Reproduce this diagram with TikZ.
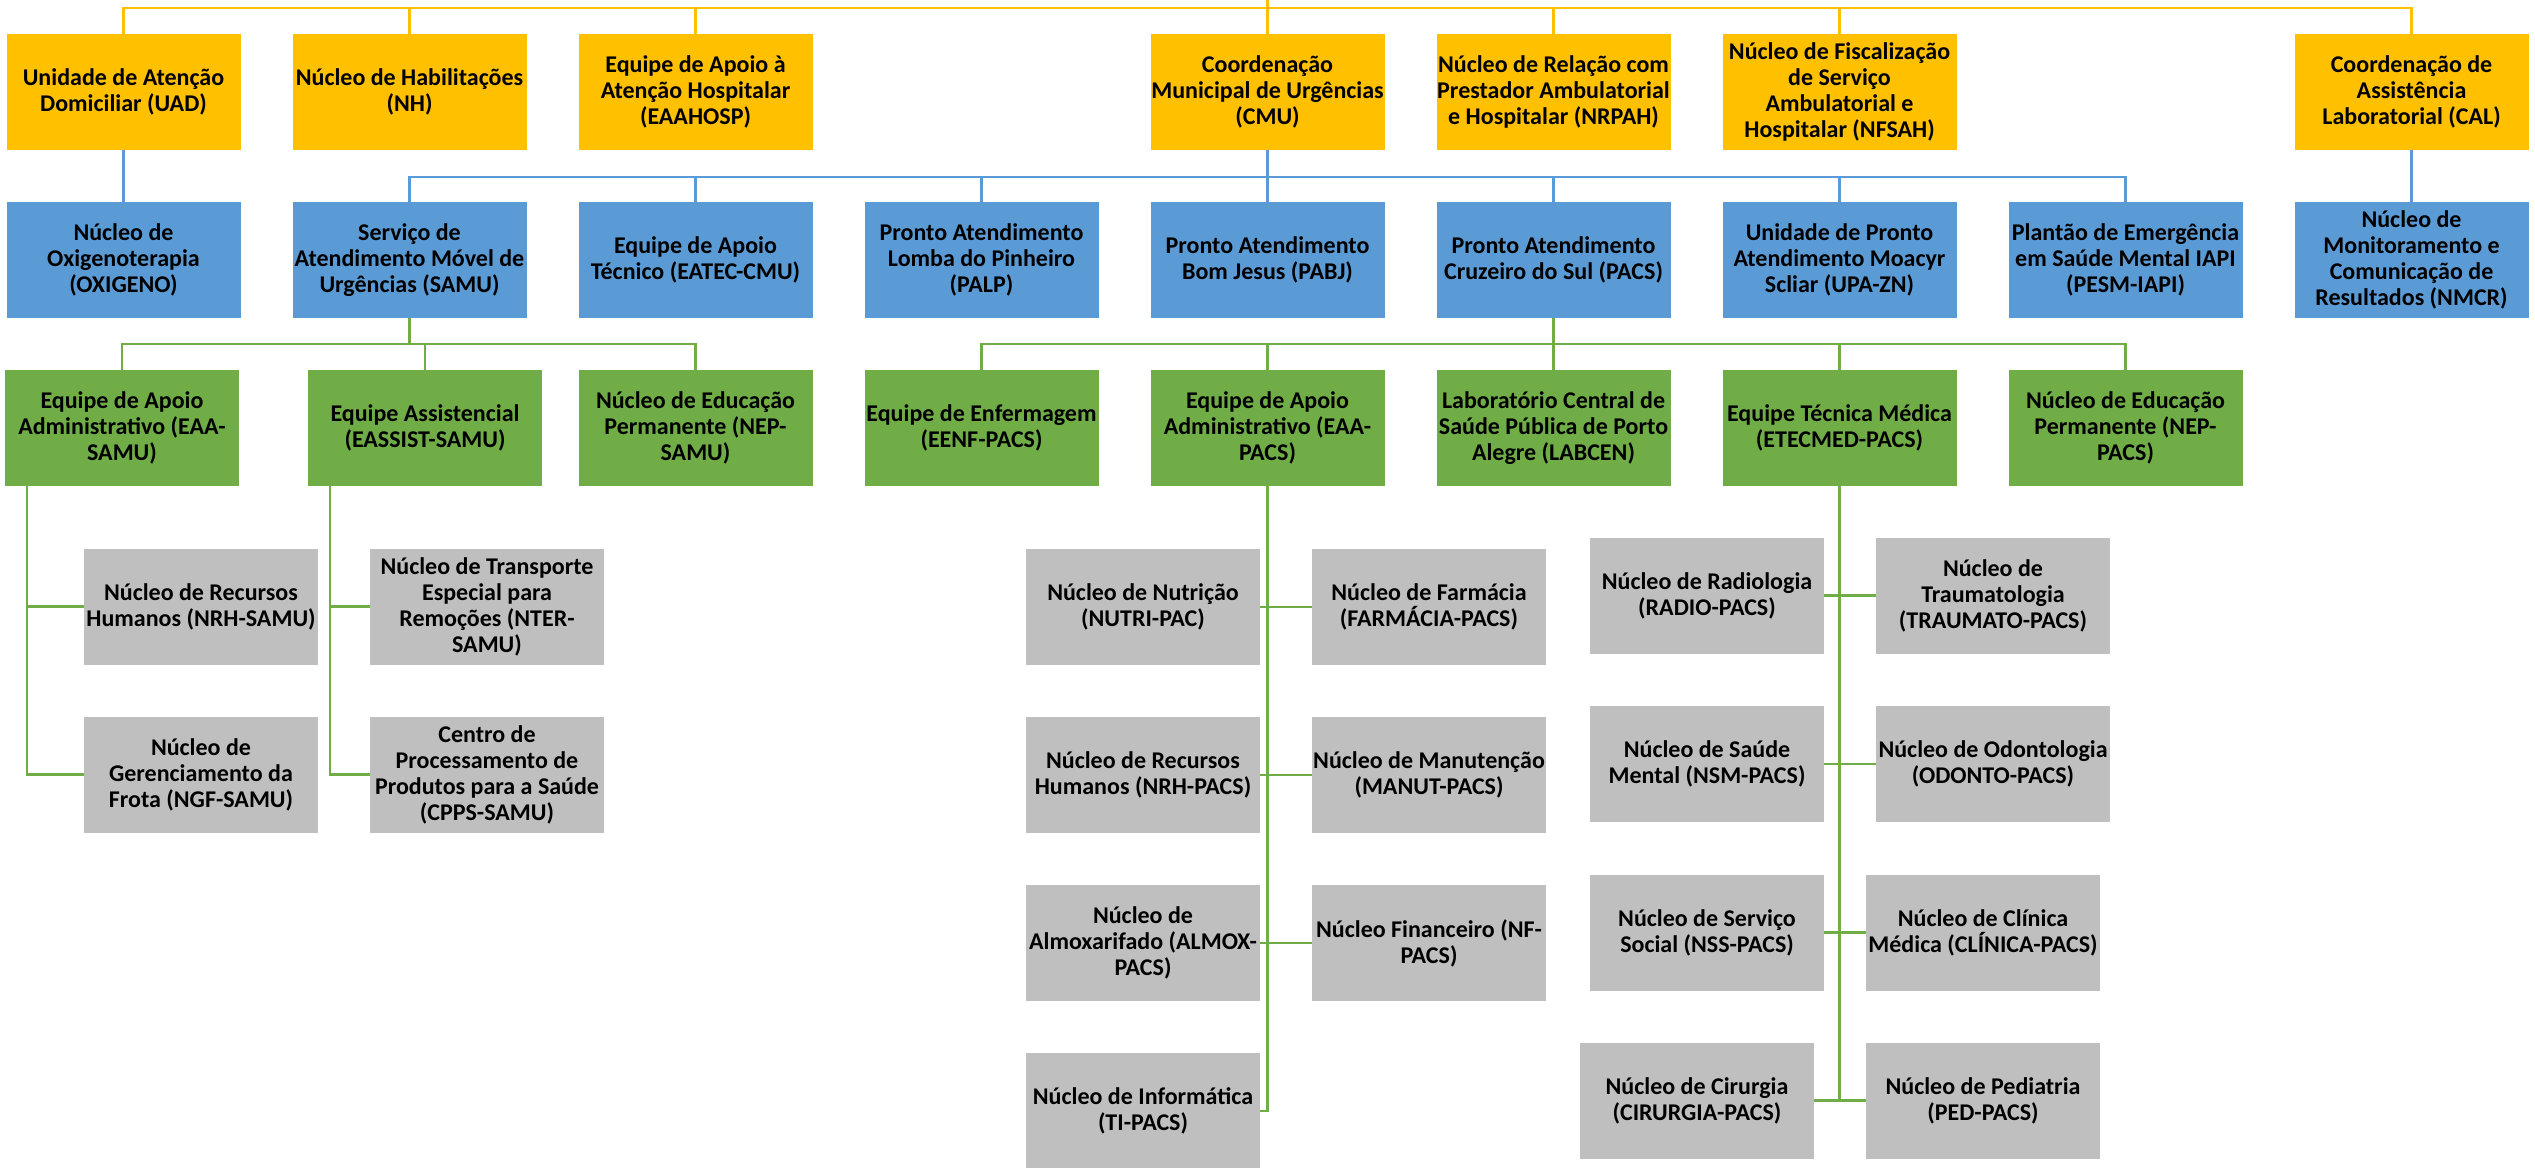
\documentclass[tikz,border=0pt]{standalone}
\usepackage{fontspec}
\setmainfont{Carlito}
\definecolor{cyel}{HTML}{FFC000}
\definecolor{cblu}{HTML}{5B9BD5}
\definecolor{cgrn}{HTML}{70AD47}
\definecolor{cgry}{HTML}{BFBFBF}
\begin{document}
\begin{tikzpicture}[x=0.5pt,y=-0.5pt,
  box/.style={rectangle, inner sep=0pt, minimum width=117pt, minimum height=58pt,
    align=center, text=black, font=\fontsize{12}{13}\selectfont\bfseries},
  ybox/.style={box, fill=cyel},
  bbox/.style={box, fill=cblu},
  gbox/.style={box, fill=cgrn},
  rbox/.style={box, fill=cgry},
  yl/.style={draw=cyel, line width=1.4pt},
  bl/.style={draw=cblu, line width=1.4pt},
  gl/.style={draw=cgrn, line width=1.4pt}]
\useasboundingbox (0,0) rectangle (2535,1167);
\coordinate (root) at (1267.5,0);
\coordinate (ybus) at (0,8);
\coordinate (bbus) at (0,177);
\coordinate (gbus) at (0,344);
\coordinate (sx1) at (27,0);
\coordinate (sx2) at (330,0);

% yellow row
\node[ybox] (UAD) at (123.5,92) {Unidade de Atenção\\Domiciliar (UAD)};
\node[ybox] (NH) at (409.5,92) {Núcleo de Habilitações\\(NH)};
\node[ybox] (EAAHOSP) at (695.5,92) {Equipe de Apoio à\\Atenção Hospitalar\\(EAAHOSP)};
\node[ybox] (CMU) at (1267.5,92) {Coordenação\\Municipal de Urgências\\(CMU)};
\node[ybox] (NRPAH) at (1553.5,92) {Núcleo de Relação com\\Prestador Ambulatorial\\e Hospitalar (NRPAH)};
\node[ybox] (NFSAH) at (1839.5,92) {Núcleo de Fiscalização\\de Serviço\\Ambulatorial e\\Hospitalar (NFSAH)};
\node[ybox] (CAL) at (2411.5,92) {Coordenação de\\Assistência\\Laboratorial (CAL)};

% blue row
\node[bbox] (OXI) at (123.5,260) {Núcleo de\\Oxigenoterapia\\(OXIGENO)};
\node[bbox] (SAMU) at (409.5,260) {Serviço de\\Atendimento Móvel de\\Urgências (SAMU)};
\node[bbox] (EATEC) at (695.5,260) {Equipe de Apoio\\Técnico (EATEC-CMU)};
\node[bbox] (PALP) at (981.5,260) {Pronto Atendimento\\Lomba do Pinheiro\\(PALP)};
\node[bbox] (PABJ) at (1267.5,260) {Pronto Atendimento\\Bom Jesus (PABJ)};
\node[bbox] (PACS) at (1553.5,260) {Pronto Atendimento\\Cruzeiro do Sul (PACS)};
\node[bbox] (UPA) at (1839.5,260) {Unidade de Pronto\\Atendimento Moacyr\\Scliar (UPA-ZN)};
\node[bbox] (PESM) at (2125.5,260) {Plantão de Emergência\\em Saúde Mental IAPI\\(PESM-IAPI)};
\node[bbox] (NMCR) at (2411.5,260) {Núcleo de\\Monitoramento e\\Comunicação de\\Resultados (NMCR)};

% green row
\node[gbox] (EAAS) at (122,428) {Equipe de Apoio\\Administrativo (EAA-\\SAMU)};
\node[gbox] (EASS) at (425,428) {Equipe Assistencial\\(EASSIST-SAMU)};
\node[gbox] (NEPS) at (695.5,428) {Núcleo de Educação\\Permanente (NEP-\\SAMU)};
\node[gbox] (EENF) at (981.5,428) {Equipe de Enfermagem\\(EENF-PACS)};
\node[gbox] (EAAP) at (1267.5,428) {Equipe de Apoio\\Administrativo (EAA-\\PACS)};
\node[gbox] (LAB) at (1553.5,428) {Laboratório Central de\\Saúde Pública de Porto\\Alegre (LABCEN)};
\node[gbox] (ETEC) at (1839.5,428) {Equipe Técnica Médica\\(ETECMED-PACS)};
\node[gbox] (NEPP) at (2125.5,428) {Núcleo de Educação\\Permanente (NEP-\\PACS)};

% gray SAMU
\node[rbox] (NRHS) at (201,606.5) {Núcleo de Recursos\\Humanos (NRH-SAMU)};
\node[rbox] (NGF) at (201,774.5) {Núcleo de\\Gerenciamento da\\Frota (NGF-SAMU)};
\node[rbox] (NTER) at (487,606.5) {Núcleo de Transporte\\Especial para\\Remoções (NTER-\\SAMU)};
\node[rbox] (CPPS) at (487,774.5) {Centro de\\Processamento de\\Produtos para a Saúde\\(CPPS-SAMU)};

% gray PACS admin
\node[rbox] (NUTRI) at (1143,607) {Núcleo de Nutrição\\(NUTRI-PAC)};
\node[rbox] (FARM) at (1429,607) {Núcleo de Farmácia\\(FARMÁCIA-PACS)};
\node[rbox] (NRHP) at (1143,775) {Núcleo de Recursos\\Humanos (NRH-PACS)};
\node[rbox] (MANUT) at (1429,775) {Núcleo de Manutenção\\(MANUT-PACS)};
\node[rbox] (ALMOX) at (1143,943) {Núcleo de\\Almoxarifado (ALMOX-\\PACS)};
\node[rbox] (NF) at (1429,943) {Núcleo Financeiro (NF-\\PACS)};
\node[rbox] (TI) at (1143,1111) {Núcleo de Informática\\(TI-PACS)};

% gray PACS medical
\node[rbox] (RADIO) at (1707,595.5) {Núcleo de Radiologia\\(RADIO-PACS)};
\node[rbox] (TRAU) at (1993,595.5) {Núcleo de\\Traumatologia\\(TRAUMATO-PACS)};
\node[rbox] (NSM) at (1707,764) {Núcleo de Saúde\\Mental (NSM-PACS)};
\node[rbox] (ODON) at (1993,764) {Núcleo de Odontologia\\(ODONTO-PACS)};
\node[rbox] (NSS) at (1707,932.5) {Núcleo de Serviço\\Social (NSS-PACS)};
\node[rbox] (CLIN) at (1983,932.5) {Núcleo de Clínica\\Médica (CLÍNICA-PACS)};
\node[rbox] (CIR) at (1697,1100.5) {Núcleo de Cirurgia\\(CIRURGIA-PACS)};
\node[rbox] (PED) at (1983,1100.5) {Núcleo de Pediatria\\(PED-PACS)};

% yellow connectors
\draw[yl] (CMU.north) -- (root);
\draw[yl] (UAD.north) -- (UAD.north |- ybus) -| (CAL.north);
\foreach \n in {NH,EAAHOSP,NRPAH,NFSAH}
  \draw[yl] (\n.north) -- (\n.north |- ybus);

% blue connectors
\draw[bl] (UAD.south) -- (OXI.north);
\draw[bl] (CAL.south) -- (NMCR.north);
\draw[bl] (CMU.south) -- (CMU.south |- bbus);
\draw[bl] (SAMU.north) -- (SAMU.north |- bbus) -| (PESM.north);
\foreach \n in {EATEC,PALP,PABJ,PACS,UPA}
  \draw[bl] (\n.north) -- (\n.north |- bbus);

% green connectors
\draw[gl] (SAMU.south) -- (SAMU.south |- gbus);
\draw[gl] (EAAS.north) -- (EAAS.north |- gbus) -| (NEPS.north);
\draw[gl] (EASS.north) -- (EASS.north |- gbus);
\draw[gl] (PACS.south) -- (PACS.south |- gbus);
\draw[gl] (EENF.north) -- (EENF.north |- gbus) -| (NEPP.north);
\foreach \n in {EAAP,LAB,ETEC}
  \draw[gl] (\n.north) -- (\n.north |- gbus);

% gray connectors SAMU
\draw[gl] (EAAS.south -| sx1) |- (NGF.west);
\draw[gl] (NRHS.west -| sx1) -- (NRHS.west);
\draw[gl] (EASS.south -| sx2) |- (CPPS.west);
\draw[gl] (NTER.west -| sx2) -- (NTER.west);

% gray connectors PACS admin
\draw[gl] (EAAP.south) |- (TI.east);
\draw[gl] (NUTRI.east) -- (FARM.west);
\draw[gl] (NRHP.east) -- (MANUT.west);
\draw[gl] (ALMOX.east) -- (NF.west);

% gray connectors PACS medical
\draw[gl] (ETEC.south) -- (ETEC.south |- CIR.east);
\draw[gl] (RADIO.east) -- (TRAU.west);
\draw[gl] (NSM.east) -- (ODON.west);
\draw[gl] (NSS.east) -- (CLIN.west);
\draw[gl] (CIR.east) -- (PED.west);
\end{tikzpicture}
\end{document}
